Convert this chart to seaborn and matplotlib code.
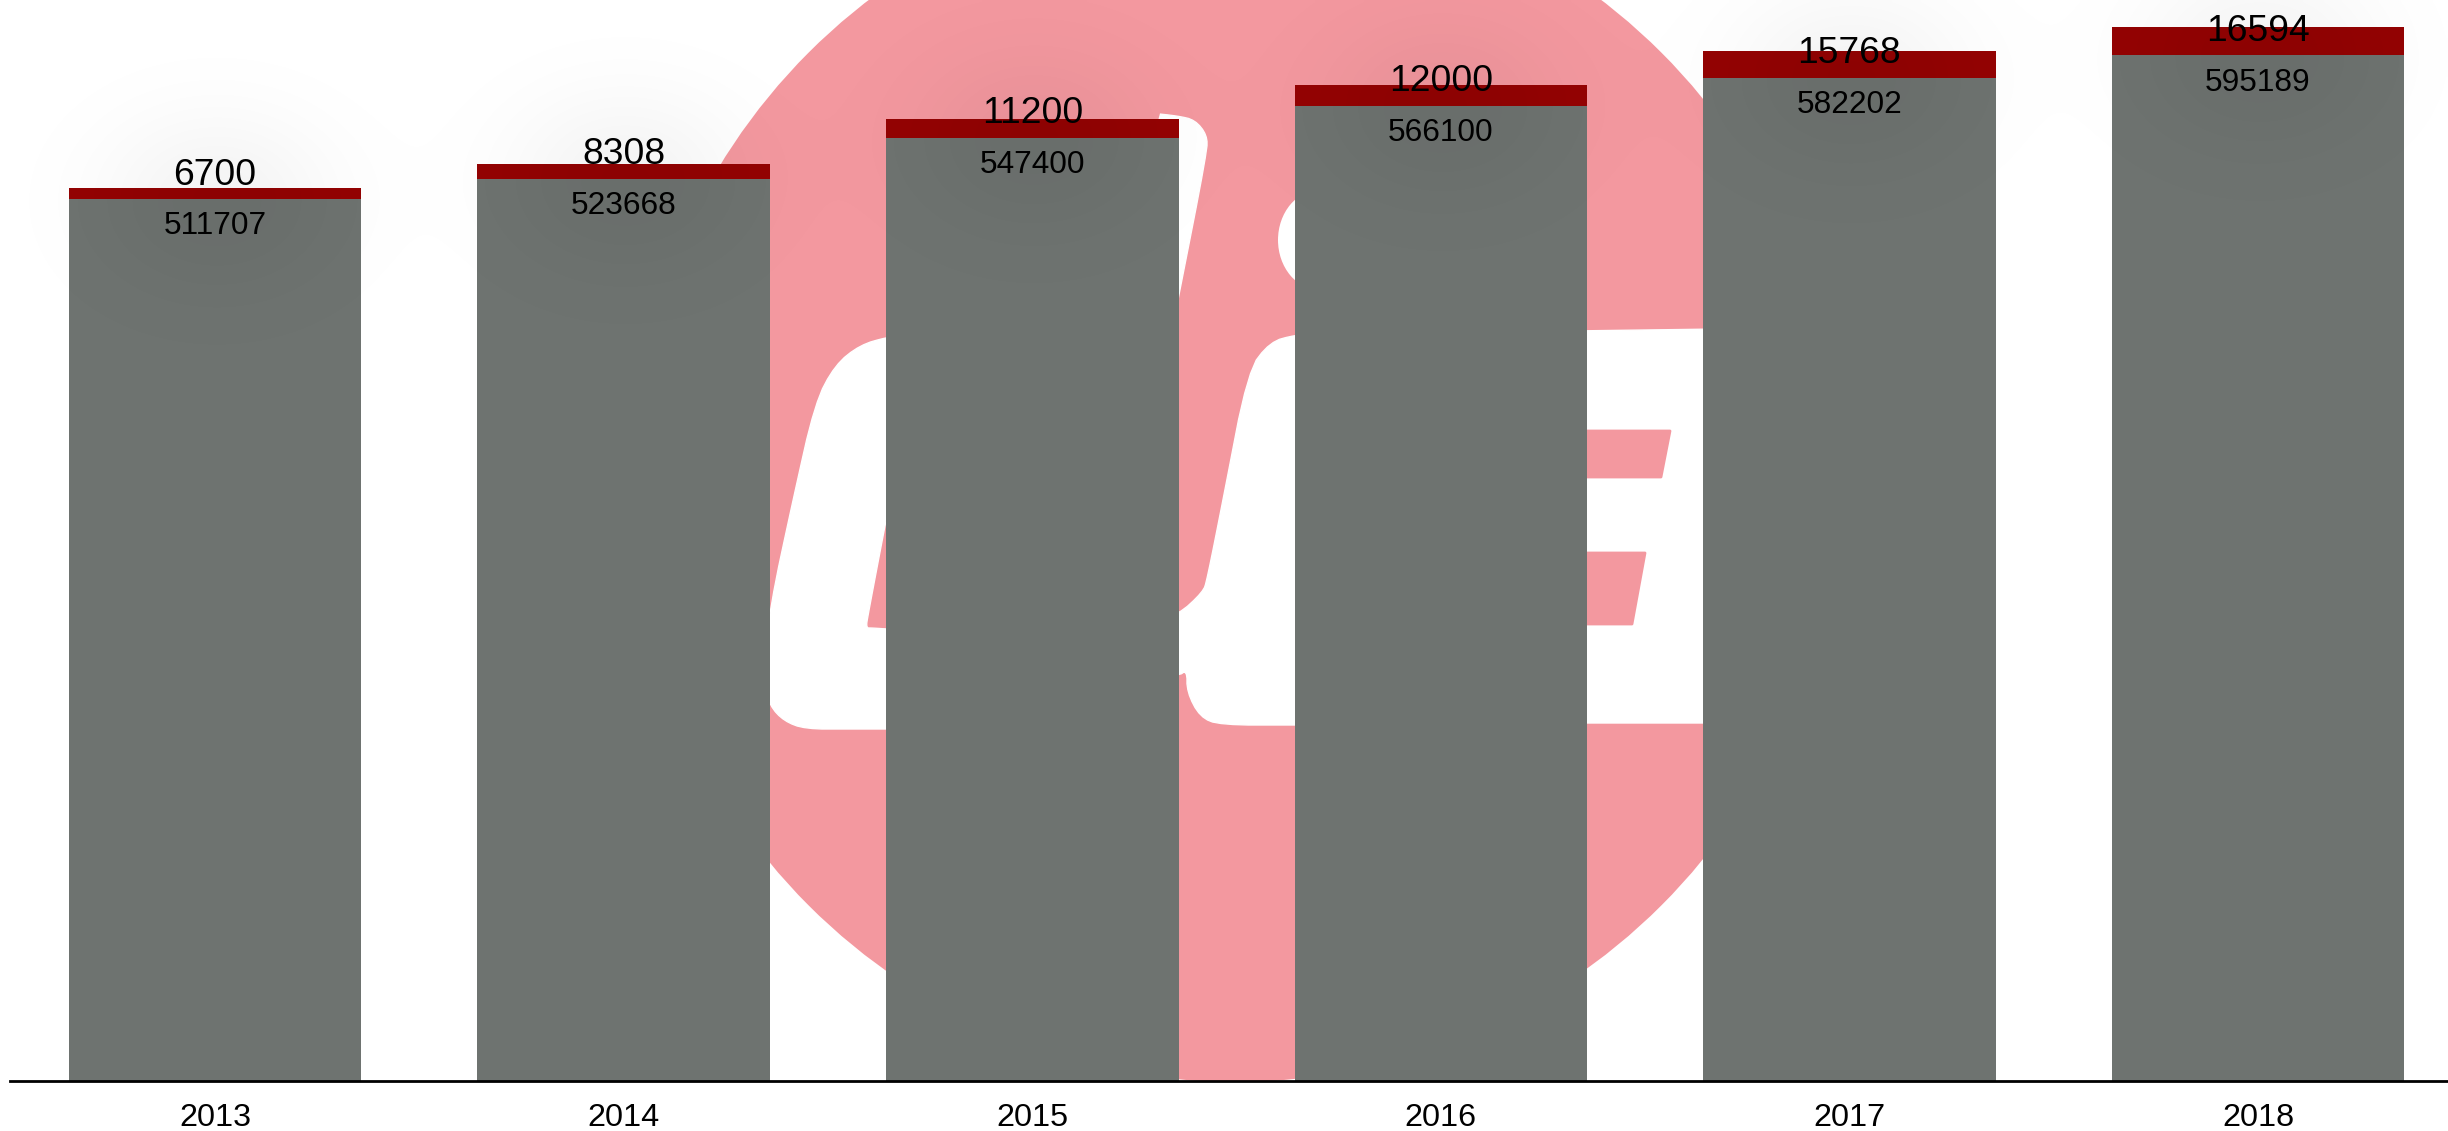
import numpy as np
import pandas as pd
import matplotlib
matplotlib.use("Agg")
import matplotlib.pyplot as plt
from matplotlib.patches import Circle, Ellipse, Polygon
import seaborn as sns

# --- DATA ---
years = ["2013", "2014", "2015", "2016", "2017", "2018"]
lower_values = [511707, 523668, 547400, 566100, 582202, 595189]
upper_values = [6700, 8308, 11200, 12000, 15768, 16594]

GRAY = "#6E7370"
RED = "#940303"
PINK = "#F3989F"
Y_MAX = 627400

# logo behind the bars, in image pixels (only the parts in the gaps are visible)
logo_letters = [
    [(900, 337), (888, 337), (860, 345), (835, 365), (815, 403), (793, 500), (770, 607), (762, 680),
     (770, 706), (784, 721), (805, 729), (850, 729), (887, 729), (905, 729), (905, 630), (887, 629), (872, 628), (866, 628),
     (868, 615), (887, 515), (900, 450)],
    [(1150, 113), (1178, 116), (1195, 120), (1207, 135), (1207, 152), (1178, 300), (1150, 440)],
    [(1325, 333), (1295, 335), (1270, 342), (1248, 371), (1223, 500), (1207, 580), (1203, 592), (1178, 615),
     (1150, 622), (1150, 672), (1178, 676), (1187, 670), (1187, 692), (1200, 717), (1220, 725), (1295, 725), (1325, 725)],
]
logo_e = [(1570, 331), (1720, 329), (1720, 723), (1570, 723)]
logo_slots = [
    [(1570, 431), (1670, 431), (1661, 477), (1570, 477)],
    [(1570, 553), (1645, 553), (1632, 624), (1570, 624)],
]


def smooth(pts, rounds=2):
    # corner cutting so the letters do not look jagged
    pts = np.array(pts, dtype=float)
    for _ in range(rounds):
        nxt = np.roll(pts, -1, axis=0)
        pts = np.column_stack([0.75 * pts + 0.25 * nxt, 0.25 * pts + 0.75 * nxt]).reshape(-1, 2)
    return pts


df = pd.DataFrame({"year": years, "lower": lower_values, "upper": upper_values})
df["total"] = df["lower"] + df["upper"]

sns.set_theme(style="white")
plt.rcParams["font.family"] = ["Liberation Sans", "DejaVu Sans"]

fig = plt.figure(figsize=(24.48, 11.31), dpi=100, facecolor="white")

# --- LOGO ---
bg = fig.add_axes([0, 0, 1, 1], zorder=0)
bg.set_xlim(0, 2448)
bg.set_ylim(1131, 0)
bg.axis("off")
bg.add_patch(Circle((1235, 479), 603, color=PINK, lw=0))
for pts in logo_letters:
    bg.add_patch(Polygon(smooth(pts), closed=True, fc="white", ec="white", lw=1))
bg.add_patch(Polygon(logo_e, closed=True, fc="white", ec="white", lw=1))
bg.add_patch(Ellipse((1320, 240), 84, 100, color="white", lw=0))
for pts in logo_slots:
    bg.add_patch(Polygon(pts, closed=True, fc=PINK, ec=PINK, lw=2, joinstyle="round"))

# --- BARS ---
ax = fig.add_axes([10 / 2448, 50 / 1131, 2438 / 2448, 1081 / 1131], zorder=1)
ax.patch.set_visible(False)
sns.barplot(data=df, x="year", y="total", color=RED, saturation=1, width=0.716, linewidth=0, ax=ax)
sns.barplot(data=df, x="year", y="lower", color=GRAY, saturation=1, width=0.716, linewidth=0, ax=ax)

ax.set_xlim(-0.502, 5.465)
ax.set_ylim(0, Y_MAX)
ax.set_xlabel("")
ax.set_ylabel("")
ax.set_yticks([])
ax.tick_params(axis="x", length=0, pad=15.5, labelsize=23.3, labelcolor="black")
sns.despine(ax=ax, left=True)
ax.spines["bottom"].set_color("black")
ax.spines["bottom"].set_linewidth(2)

# labels sit a fixed distance either side of the gray top
for i, row in df.iterrows():
    ax.annotate(str(row["upper"]), (i, row["lower"]), xytext=(0, 17.5), textcoords="offset points",
                ha="center", va="center", fontsize=26.8, color="black")
    ax.annotate(str(row["lower"]), (i, row["lower"]), xytext=(0, -19.5), textcoords="offset points",
                ha="center", va="center", fontsize=22.8, color="black")

# faint soft shadow around the top of each bar
yy, xx = np.mgrid[0:1131:4, 0:2448:4]
shade = np.zeros(xx.shape)
for i, v in enumerate(lower_values):
    cx, cy = 215 + 408.6 * i, 1081 - v / Y_MAX * 1081
    shade += np.exp(-((xx - cx) / 85.0) ** 2 / 2 - ((yy - cy) / 65.0) ** 2 / 2)
rgba = np.zeros(xx.shape + (4,))
rgba[..., 3] = 0.045 * shade
top = fig.add_axes([0, 0, 1, 1], zorder=2)
top.imshow(rgba, extent=(0, 2448, 1131, 0), aspect="auto", interpolation="bilinear")
top.axis("off")

fig.savefig("out.png", dpi=100)
